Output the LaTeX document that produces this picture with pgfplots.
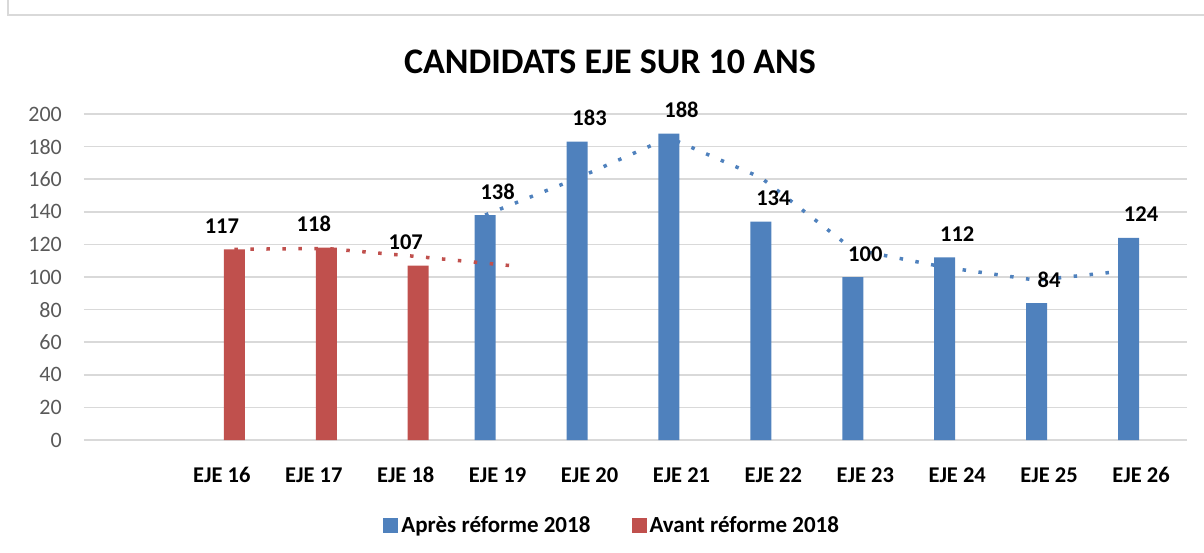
\documentclass[border=0pt]{standalone}
\usepackage{pgfplots}
\pgfplotsset{compat=1.18}
\usepackage{fontspec}
\setmainfont{Carlito}
\definecolor{blueS}{HTML}{4F81BD}
\definecolor{redS}{HTML}{C0504D}
\definecolor{gridG}{HTML}{D9D9D9}
\definecolor{tickG}{HTML}{595959}
\begin{document}
\begin{tikzpicture}[x=1pt,y=1pt]
\path[use as bounding box] (0,0) rectangle (1204,552);
\draw[gridG, line width=2pt] (7.5,552) -- (7.5,537) -- (1204,537);
\node[font=\fontsize{36}{40}\selectfont\bfseries, inner sep=0pt, anchor=center] at (610,490) {CANDIDATS EJE SUR 10 ANS};
\begin{axis}[
  at={(84pt,112pt)}, anchor=south west,
  width=1103pt, height=326pt, scale only axis,
  xmin=-0.5, xmax=11.5, ymin=0, ymax=200,
  ytick={0,20,...,200},
  xtick={1,...,11},
  xticklabels={EJE 16,EJE 17,EJE 18,EJE 19,EJE 20,EJE 21,EJE 22,EJE 23,EJE 24,EJE 25,EJE 26},
  ymajorgrids, grid style={gridG, line width=1.5pt},
  axis line style={draw=none},
  major tick length=0pt,
  /pgf/number format/assume math mode=true,
  yticklabel style={font=\fontsize{22}{24}\selectfont, text=tickG, anchor=east, inner sep=0pt, xshift=-22pt},
  xticklabel style={font=\fontsize{22.5}{24}\selectfont\bfseries, text=black, anchor=base, inner sep=0pt, yshift=-42pt},
  legend columns=2,
  legend style={at={(0.478,-0.261)}, anchor=center, draw=none, fill=none,
    font=\fontsize{23}{25}\selectfont\bfseries,
    /tikz/every even column/.append style={column sep=41pt},
    nodes={inner sep=0pt}},
  legend image code/.code={\fill[#1] (0pt,-7.5pt) rectangle (15pt,7.5pt);},
]
% bars
\addplot[ybar, bar width=21pt, bar shift=-12.5pt, fill=blueS, draw=none]
  coordinates {(4,138) (5,183) (6,188) (7,134) (8,100) (9,112) (10,84) (11,124)};
\addlegendentry{\hspace{3pt}Après réforme 2018}
\addplot[ybar, bar width=21pt, bar shift=12.5pt, fill=redS, draw=none]
  coordinates {(1,117) (2,118) (3,107)};
\addlegendentry{\hspace{3pt}Avant réforme 2018}
% moving-average trendlines (period 2)
\addplot[forget plot, redS, line width=3.5pt, dash pattern=on 3.5pt off 12.5pt, line cap=butt]
  coordinates {(1.136,117) (2.136,117.5) (3.136,112.5) (4.136,107)};
\addplot[forget plot, blueS, line width=3.5pt, dash pattern=on 3.5pt off 12.5pt, line cap=butt]
  coordinates {(3.864,138) (4.864,160.5) (5.864,185.5) (6.864,161) (7.864,117) (8.864,106) (9.864,98) (10.864,104)};
% data labels
\addplot[forget plot, ybar, bar width=21pt, bar shift=-12.5pt, draw=none, fill=none,
  nodes near coords, every node near coord/.append style={anchor=base, yshift=16pt, inner sep=0pt, text=black, font=\fontsize{22.5}{24}\selectfont\bfseries}]
  coordinates {(4,138) (5,183) (6,188) (7,134) (8,100) (9,112) (10,84) (11,124)};
\addplot[forget plot, ybar, bar width=21pt, bar shift=12.5pt, draw=none, fill=none,
  nodes near coords, every node near coord/.append style={anchor=base, yshift=16pt, inner sep=0pt, text=black, font=\fontsize{22.5}{24}\selectfont\bfseries}]
  coordinates {(1,117) (2,118) (3,107)};
\end{axis}
\end{tikzpicture}
\end{document}
